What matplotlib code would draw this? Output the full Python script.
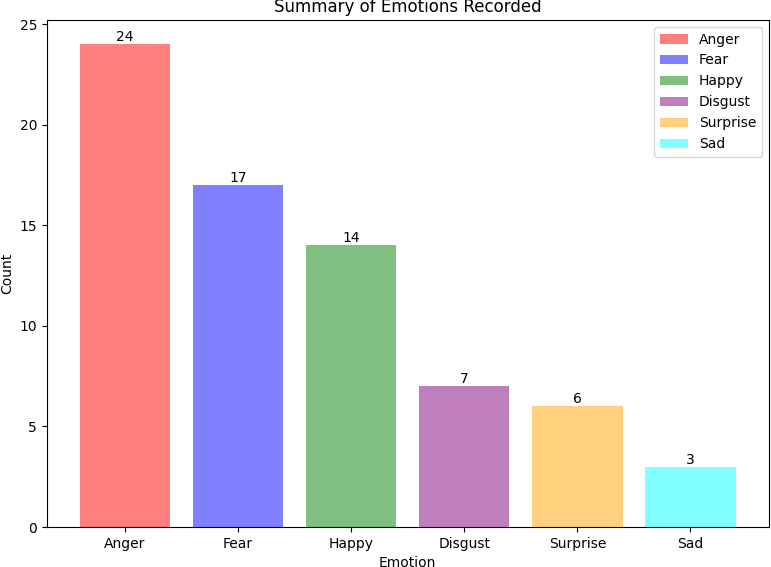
import matplotlib
matplotlib.use('Agg')
import matplotlib.pyplot as plt

emotions = ['Anger', 'Fear', 'Happy', 'Disgust', 'Surprise', 'Sad']
counts = [24, 17, 14, 7, 6, 3]
colors = ['red', 'blue', 'green', 'purple', 'orange', 'cyan']

fig, ax = plt.subplots(figsize=(7.71, 5.67), dpi=100)
fig.subplots_adjust(left=0.0606, right=0.9968, top=0.9647, bottom=0.0705)

bars = ax.bar(emotions, counts, color=colors, alpha=0.5, label=emotions)
for bar, c in zip(bars, counts):
    ax.text(bar.get_x() + bar.get_width() / 2, bar.get_height(), str(c),
            ha='center', va='bottom')

ax.set_xlabel('Emotion')
ax.set_ylabel('Count')
ax.set_title('Summary of Emotions Recorded')
ax.legend(loc='upper right')

fig.savefig('out.png', dpi=100)
